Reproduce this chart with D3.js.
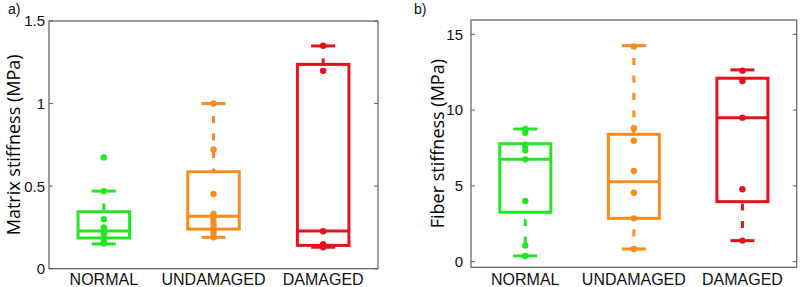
<!DOCTYPE html>
<html><head><meta charset="utf-8">
<script src="https://cdn.jsdelivr.net/npm/d3@7"></script>
<style>body{margin:0;background:#fff}svg{display:block}</style>
</head><body><svg id="c" width="800" height="287"></svg>
<script>
const categories = ["NORMAL", "UNDAMAGED", "DAMAGED"];
const colors = ["#22e822", "#f98b1f", "#e3131c"];

// Panel a: Matrix stiffness (MPa)
const matrixTicks = [0, 0.5, 1, 1.5];
const matrixTickLabels = ["0", "0.5", "1", "1.5"];
const matrixQ1 = [0.186, 0.240, 0.141];
const matrixMedian = [0.228, 0.317, 0.228];
const matrixQ3 = [0.345, 0.587, 1.237];
const matrixLow = [0.150, 0.190, 0.130];
const matrixHigh = [0.470, 1.000, 1.349];
const matrixNormal = [0.674, 0.470, 0.300, 0.250, 0.234, 0.214, 0.193, 0.174, 0.153];
const matrixUndamaged = [1.000, 0.722, 0.452, 0.331, 0.311, 0.284, 0.260, 0.234, 0.214, 0.190];
const matrixDamaged = [1.350, 1.198, 0.227, 0.148, 0.130];

// Panel b: Fiber stiffness (MPa)
const fiberTicks = [0, 5, 10, 15];
const fiberTickLabels = ["0", "5", "10", "15"];
const fiberQ1 = [3.26, 2.86, 3.96];
const fiberMedian = [6.75, 5.28, 9.50];
const fiberQ3 = [7.78, 8.40, 12.10];
const fiberLow = [0.38, 0.84, 1.39];
const fiberHigh = [8.75, 14.25, 12.65];
const fiberNormal = [8.75, 8.50, 7.65, 7.35, 6.75, 4.00, 1.06, 0.38];
const fiberUndamaged = [14.20, 8.80, 7.98, 5.98, 4.55, 2.86, 0.84];
const fiberDamaged = [12.60, 11.92, 9.50, 4.78, 1.39];

const svg = d3.select("#c");

function panel(cfg) {
  const g = svg.append("g");
  const x = d3.scaleLinear().domain([0.5, 3.5]).range([cfg.left, cfg.right]);
  const y = d3.scaleLinear().domain(cfg.ydomain).range([cfg.bottom, cfg.top]);
  const unit = x(2) - x(1);
  const boxHalf = unit * 0.235;
  const capHalf = 12;

  g.append("rect").attr("x", cfg.left).attr("y", cfg.top)
    .attr("width", cfg.right - cfg.left).attr("height", cfg.bottom - cfg.top)
    .attr("fill", "none").attr("stroke", "#5a5a5a").attr("stroke-width", 1.2);

  cfg.ticks.forEach((t, i) => {
    const yy = y(t);
    g.append("line").attr("x1", cfg.left).attr("x2", cfg.left + 4).attr("y1", yy).attr("y2", yy)
      .attr("stroke", "#5a5a5a").attr("stroke-width", 1);
    g.append("line").attr("x1", cfg.right).attr("x2", cfg.right - 4).attr("y1", yy).attr("y2", yy)
      .attr("stroke", "#5a5a5a").attr("stroke-width", 1);
    g.append("text").attr("x", cfg.left - cfg.tickGap).attr("y", yy).attr("dy", "0.36em")
      .attr("text-anchor", "end").attr("font-family", "Liberation Sans, Arial, sans-serif")
      .attr("font-size", 15).attr("fill", "#111").text(cfg.tickLabels[i]);
  });

  categories.forEach((c, i) => {
    g.append("text").attr("x", x(i + 1)).attr("y", 284.5).attr("text-anchor", "middle")
      .attr("font-family", "Liberation Sans, Arial, sans-serif").attr("font-size", 16)
      .attr("fill", "#111").text(c);
  });

  g.append("text").attr("transform", `translate(${cfg.labelX},${(cfg.top + cfg.bottom) / 2}) rotate(-90)`)
    .attr("text-anchor", "middle").attr("font-family", "Open Sans, sans-serif")
    .attr("font-size", 18).attr("fill", "#000").text(cfg.label);

  g.append("text").attr("x", cfg.letterX).attr("y", 14).attr("font-family", "Liberation Sans, Arial, sans-serif")
    .attr("font-size", 14).attr("fill", "#111").text(cfg.letter);

  categories.forEach((c, i) => {
    const cx = x(i + 1), col = colors[i];
    const bg = g.append("g").attr("stroke", col).attr("fill", "none").attr("stroke-width", 3);
    [[cfg.high[i], cfg.q3[i]], [cfg.low[i], cfg.q1[i]]].forEach(([from, to]) => {
      bg.append("line").attr("x1", cx).attr("x2", cx).attr("y1", y(from)).attr("y2", y(to))
        .attr("stroke-dasharray", "7,10.5").attr("stroke-dashoffset", 5);
      bg.append("line").attr("x1", cx - capHalf).attr("x2", cx + capHalf)
        .attr("y1", y(from)).attr("y2", y(from));
    });
    bg.append("rect").attr("x", cx - boxHalf).attr("width", boxHalf * 2)
      .attr("y", y(cfg.q3[i])).attr("height", y(cfg.q1[i]) - y(cfg.q3[i]));
    bg.append("line").attr("x1", cx - boxHalf).attr("x2", cx + boxHalf)
      .attr("y1", y(cfg.median[i])).attr("y2", y(cfg.median[i]));
    g.append("g").selectAll("circle").data(cfg.points[i]).join("circle")
      .attr("cx", cx).attr("cy", d => y(d)).attr("r", 3.2).attr("fill", col);
  });
}

panel({
  left: 49, right: 378, top: 21, bottom: 268.7, ydomain: [0, 1.5],
  ticks: matrixTicks, tickLabels: matrixTickLabels, tickGap: 4,
  q1: matrixQ1, median: matrixMedian, q3: matrixQ3, low: matrixLow, high: matrixHigh,
  points: [matrixNormal, matrixUndamaged, matrixDamaged],
  label: "Matrix stiffness (MPa)", labelX: 20, letter: "a)", letterX: 8
});
panel({
  left: 471, right: 796.7, top: 20, bottom: 267.3, ydomain: [-0.37, 15.94],
  ticks: fiberTicks, tickLabels: fiberTickLabels, tickGap: 8,
  q1: fiberQ1, median: fiberMedian, q3: fiberQ3, low: fiberLow, high: fiberHigh,
  points: [fiberNormal, fiberUndamaged, fiberDamaged],
  label: "Fiber stiffness (MPa)", labelX: 444, letter: "b)", letterX: 414
});
</script></body></html>
